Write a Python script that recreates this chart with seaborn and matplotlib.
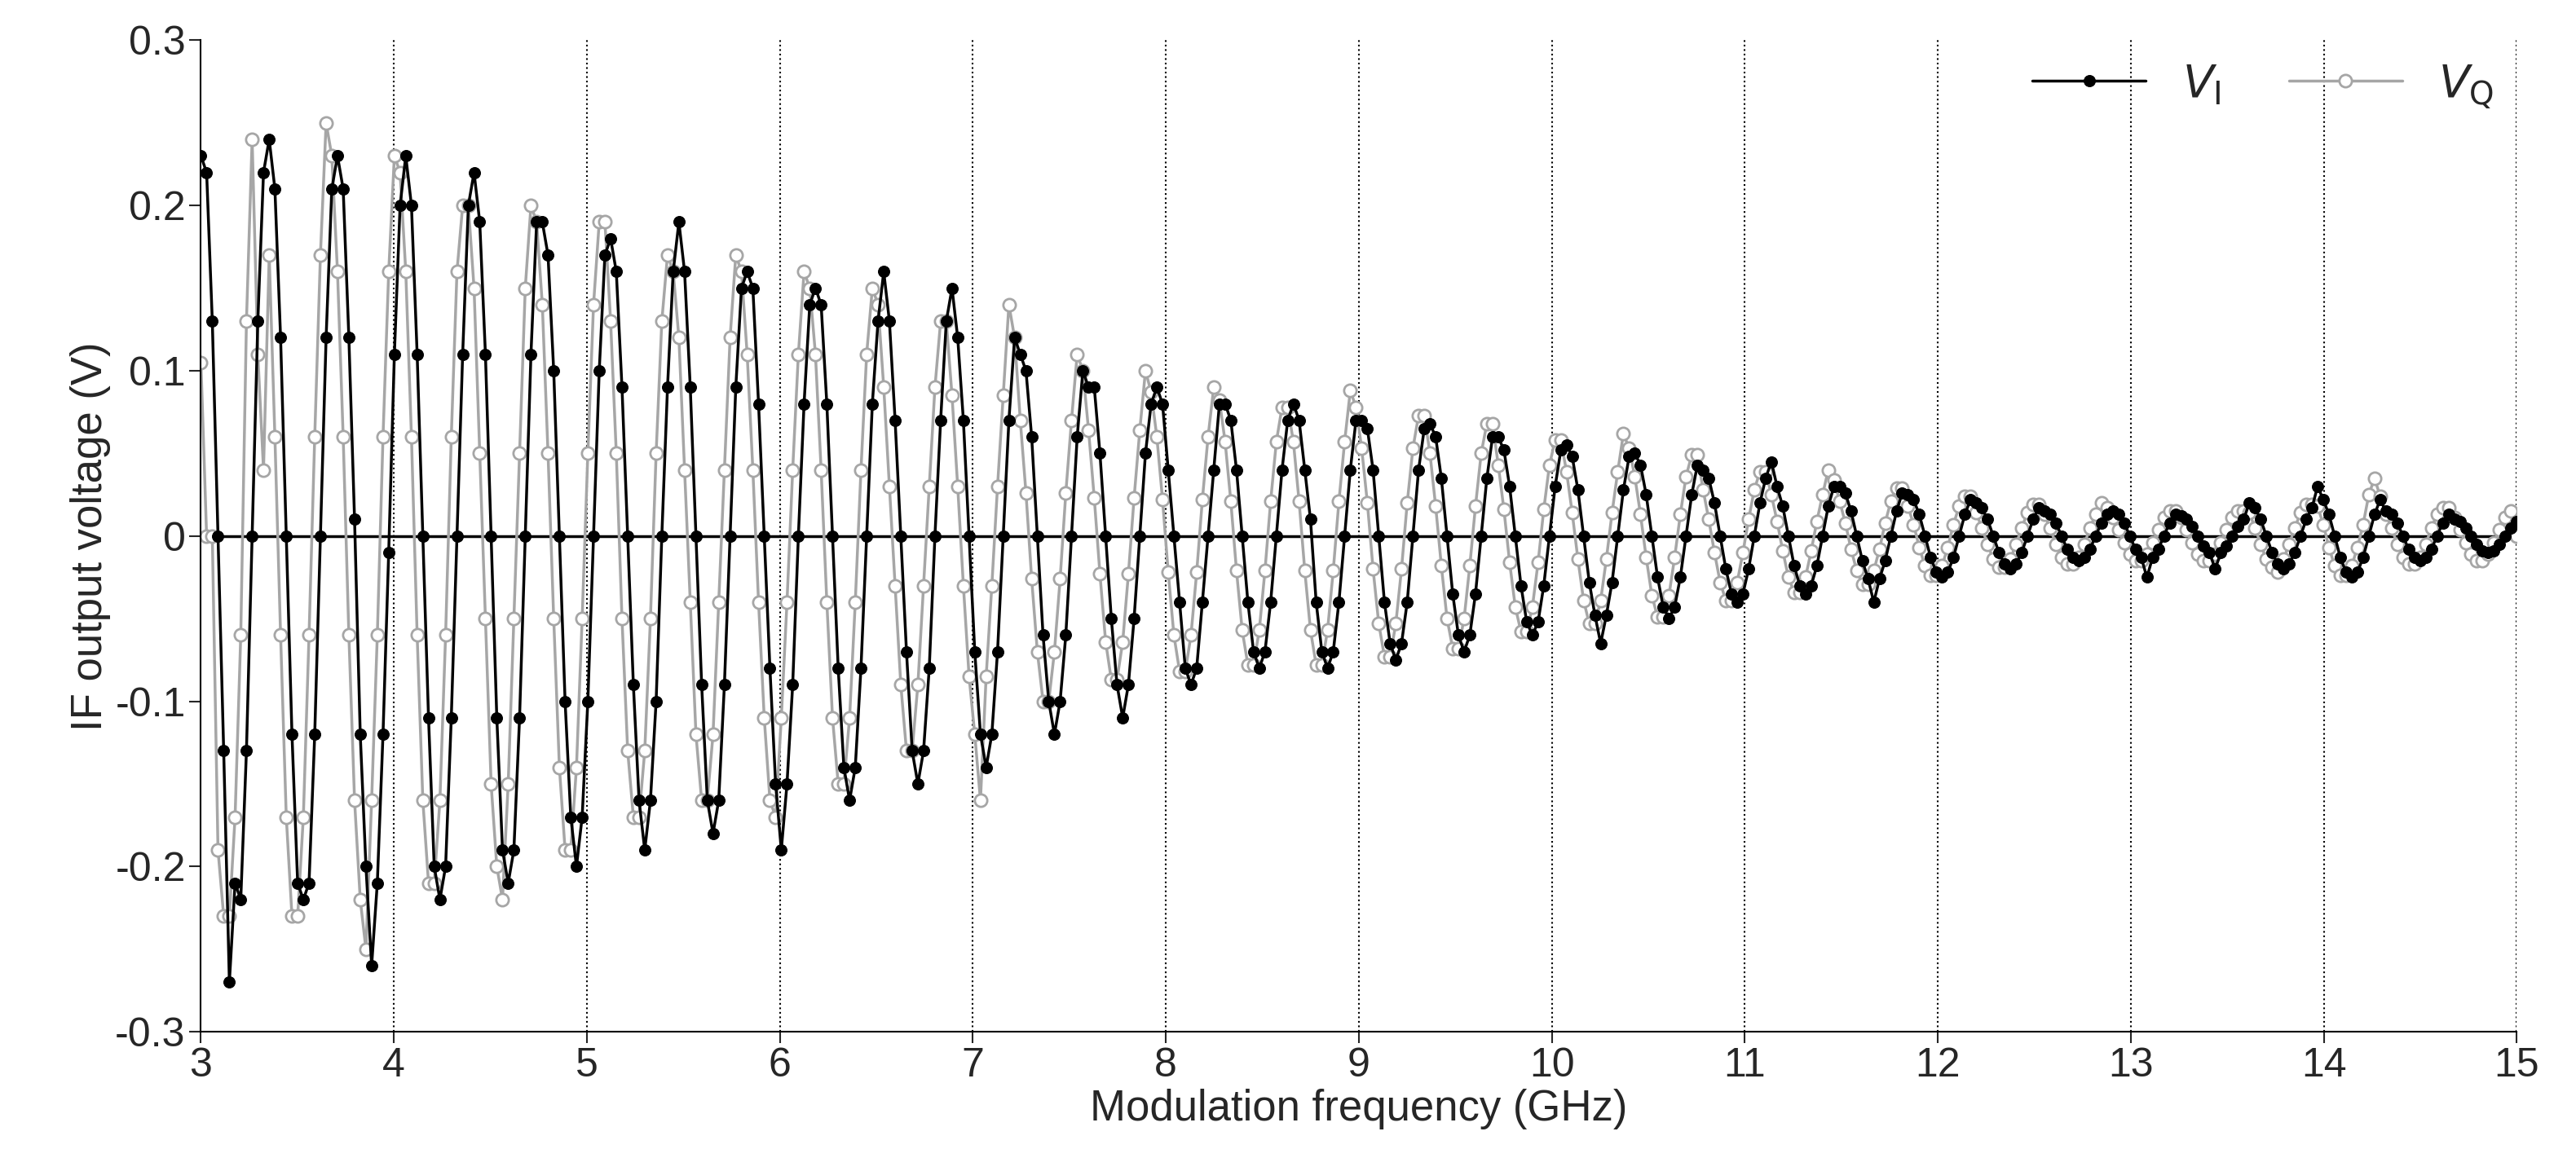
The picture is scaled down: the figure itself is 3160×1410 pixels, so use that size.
import numpy as np
import pandas as pd
import matplotlib
matplotlib.use("Agg")
import matplotlib.pyplot as plt
import seaborn as sns

vi_rows = [
 [.23,.22,.13,0,-.13,-.27,-.21,-.22,-.13,0,.13,.22],
 [.24,.21,.12,0,-.12,-.21,-.22,-.21,-.12,0,.12,.21],
 [.23,.21,.12,.01,-.12,-.2,-.26,-.21,-.12,-.01,.11,.2],
 [.23,.2,.11,0,-.11,-.2,-.22,-.2,-.11,0,.11,.2],
 [.22,.19,.11,0,-.11,-.19,-.21,-.19,-.11,0,.11,.19],
 [.19,.17,.1,0,-.1,-.17,-.2,-.17,-.1,0,.1,.17],
 [.18,.16,.09,0,-.09,-.16,-.19,-.16,-.1,0,.09,.16],
 [.19,.16,.09,0,-.09,-.16,-.18,-.16,-.09,0,.09,.15],
 [.16,.15,.08,0,-.08,-.15,-.19,-.15,-.09,0,.08,.14],
 [.15,.14,.08,0,-.08,-.14,-.16,-.14,-.08,0,.08,.13],
 [.16,.13,.07,0,-.07,-.13,-.15,-.13,-.08,0,.07,.13],
 [.15,.12,.07,0,-.07,-.12,-.14,-.12,-.07,0,.07,.12],
 [.11,.1,.06,0,-.06,-.1,-.12,-.1,-.06,0,.06,.1],
 [.09,.09,.05,0,-.05,-.09,-.11,-.09,-.05,0,.05,.08],
 [.09,.08,.04,0,-.04,-.08,-.09,-.08,-.04,0,.04,.08],
 [.08,.07,.04,0,-.04,-.07,-.08,-.07,-.04,0,.04,.07],
 [.08,.07,.04,.01,-.04,-.07,-.08,-.07,-.04,0,.04,.07],
 [.07,.065,.04,0,-.04,-.065,-.075,-.065,-.04,0,.04,.065],
 [.068,.06,.035,0,-.035,-.06,-.07,-.06,-.035,0,.035,.06],
 [.06,.052,.03,0,-.03,-.052,-.06,-.052,-.03,0,.03,.052],
 [.055,.048,.028,0,-.028,-.048,-.065,-.048,-.028,0,.028,.048],
 [.05,.043,.025,0,-.025,-.043,-.05,-.043,-.025,0,.025,.043],
 [.04,.035,.02,0,-.02,-.035,-.04,-.035,-.02,0,.02,.035],
 [.045,.03,.018,0,-.018,-.03,-.035,-.03,-.018,0,.018,.03],
 [.03,.026,.015,0,-.015,-.026,-.04,-.026,-.015,0,.015,.026],
 [.025,.022,.013,0,-.013,-.022,-.025,-.022,-.013,0,.013,.022],
 [.02,.017,.01,0,-.01,-.017,-.02,-.017,-.01,0,.01,.017],
 [.015,.013,.008,0,-.008,-.013,-.015,-.013,-.008,0,.008,.013],
 [.015,.013,.008,0,-.008,-.013,-.025,-.013,-.008,0,.008,.013],
 [.012,.01,.006,0,-.006,-.01,-.02,-.01,-.006,0,.006,.01],
 [.02,.017,.01,0,-.01,-.017,-.02,-.017,-.01,0,.01,.017],
 [.03,.022,.013,0,-.013,-.022,-.025,-.022,-.013,0,.013,.022],
 [.015,.013,.008,0,-.008,-.013,-.015,-.013,-.008,0,.008,.013],
 [.01,.009,.005,0,-.005,-.009,-.01,-.009,-.005,0,.005,.009],
]
vq_rows = [
 [.105,.0,.0,-.19,-.23,-.23,-.17,-.06,.13,.24,.11,.04],
 [.17,.06,-.06,-.17,-.23,-.23,-.17,-.06,.06,.17,.25,.23],
 [.16,.06,-.06,-.16,-.22,-.25,-.16,-.06,.06,.16,.23,.22],
 [.16,.06,-.06,-.16,-.21,-.21,-.16,-.06,.06,.16,.2,.2],
 [.15,.05,-.05,-.15,-.2,-.22,-.15,-.05,.05,.15,.2,.19],
 [.14,.05,-.05,-.14,-.19,-.19,-.14,-.05,.05,.14,.19,.19],
 [.13,.05,-.05,-.13,-.17,-.17,-.13,-.05,.05,.13,.17,.16],
 [.12,.04,-.04,-.12,-.16,-.16,-.12,-.04,.04,.12,.17,.16],
 [.11,.04,-.04,-.11,-.16,-.17,-.11,-.04,.04,.11,.16,.15],
 [.11,.04,-.04,-.11,-.15,-.15,-.11,-.04,.04,.11,.15,.14],
 [.09,.03,-.03,-.09,-.13,-.13,-.09,-.03,.03,.09,.13,.13],
 [.085,.03,-.03,-.085,-.12,-.16,-.085,-.03,.03,.085,.14,.12],
 [.07,.026,-.026,-.07,-.1,-.1,-.07,-.026,.026,.07,.11,.1],
 [.064,.023,-.023,-.064,-.087,-.087,-.064,-.023,.023,.064,.1,.087],
 [.06,.022,-.022,-.06,-.082,-.082,-.06,-.022,.022,.06,.09,.082],
 [.057,.021,-.021,-.057,-.078,-.078,-.057,-.021,.021,.057,.078,.078],
 [.057,.021,-.021,-.057,-.078,-.078,-.057,-.021,.021,.057,.088,.078],
 [.053,.02,-.02,-.053,-.073,-.073,-.053,-.02,.02,.053,.073,.073],
 [.05,.018,-.018,-.05,-.068,-.068,-.05,-.018,.018,.05,.068,.068],
 [.043,.016,-.016,-.043,-.058,-.058,-.043,-.016,.016,.043,.058,.058],
 [.039,.014,-.014,-.039,-.053,-.053,-.039,-.014,.014,.039,.062,.053],
 [.036,.013,-.013,-.036,-.049,-.049,-.036,-.013,.013,.036,.049,.049],
 [.028,.01,-.01,-.028,-.039,-.039,-.028,-.01,.01,.028,.039,.039],
 [.025,.009,-.009,-.025,-.034,-.034,-.025,-.009,.009,.025,.04,.034],
 [.021,.008,-.008,-.021,-.029,-.029,-.021,-.008,.008,.021,.029,.029],
 [.018,.007,-.007,-.018,-.024,-.024,-.018,-.007,.007,.018,.024,.024],
 [.014,.005,-.005,-.014,-.019,-.019,-.014,-.005,.005,.014,.019,.019],
 [.013,.005,-.005,-.013,-.017,-.017,-.013,-.005,.005,.013,.02,.017],
 [.011,.004,-.004,-.011,-.015,-.015,-.011,-.004,.004,.011,.015,.015],
 [.011,.004,-.004,-.011,-.015,-.015,-.011,-.004,.004,.011,.015,.015],
 [.014,.005,-.005,-.014,-.019,-.022,-.014,-.005,.005,.014,.019,.019],
 [.018,.007,-.007,-.018,-.024,-.024,-.018,-.007,.007,.025,.035,.024],
 [.013,.005,-.005,-.013,-.017,-.017,-.013,-.005,.005,.013,.017,.017],
 [.011,.004,-.004,-.011,-.015,-.015,-.011,-.004,.004,.011,.015,.0],
]
v_i = [v for r in vi_rows for v in r]
v_q = [v for r in vq_rows for v in r]
n = len(v_i)
freq = np.linspace(3, 15, n)
x_ticks = list(range(3, 16))
y_ticks = [-0.3, -0.2, -0.1, 0, 0.1, 0.2, 0.3]
y_labels = ["-0.3", "-0.2", "-0.1", "0", "0.1", "0.2", "0.3"]

df = pd.DataFrame({"f": freq, "vi": v_i, "vq": v_q})

sns.set_style("white")
plt.rcParams['font.family'] = ['Arial', 'Liberation Sans', 'DejaVu Sans']
fig = plt.figure(figsize=(31.6, 14.1), dpi=100)
ax = fig.add_axes([0.078, 0.102, 0.899, 0.863])

for x in x_ticks[1:]:
    ax.axvline(x, color="black", ls=":", lw=1.5, zorder=0)
ax.axhline(0, color="black", lw=2.5, zorder=1)

sns.lineplot(data=df, x="f", y="vi", ax=ax, color="black", lw=2.5, marker="o",
             markersize=10, markeredgecolor="black", markerfacecolor="black",
             label=r"$V_\mathrm{I}$", zorder=3)
sns.lineplot(data=df, x="f", y="vq", ax=ax, color="#a6a6a6", lw=2.5, marker="o",
             markersize=11, markeredgecolor="#a6a6a6", markerfacecolor="white",
             markeredgewidth=2, label=r"$V_\mathrm{Q}$", zorder=2)

ax.set_xlim(3, 15)
ax.set_ylim(-0.3, 0.3)
ax.set_xticks(x_ticks)
ax.set_yticks(y_ticks)
ax.set_yticklabels(y_labels)
ax.tick_params(labelsize=36, length=10, width=1.5, direction="out", bottom=True, left=True)
ax.set_xlabel("Modulation frequency (GHz)", fontsize=38)
ax.set_ylabel("IF output voltage (V)", fontsize=38)
for s in ["top", "right"]:
    ax.spines[s].set_visible(False)
for s in ["left", "bottom"]:
    ax.spines[s].set_color("black")
    ax.spines[s].set_linewidth(1.5)
ax.legend(loc="upper right", frameon=False, fontsize=40, ncol=2,
          handlelength=2.5, borderaxespad=0.1, columnspacing=1.5)
fig.savefig("out.png")
